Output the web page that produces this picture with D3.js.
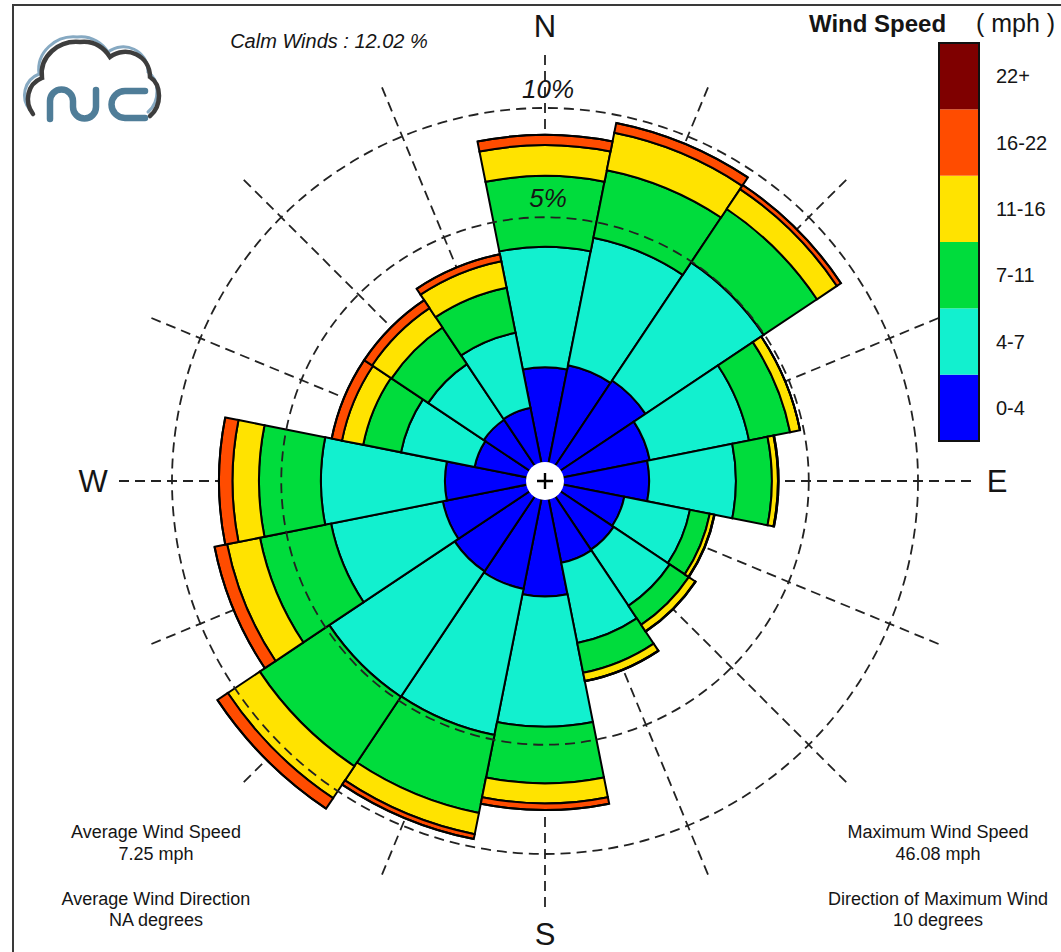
<!DOCTYPE html>
<html>
<head>
<meta charset="utf-8">
<script src="https://d3js.org/d3.v7.min.js"></script>
<style>
  body { margin: 0; background: #fff; }
  svg { display: block; }
  text { font-family: "Liberation Sans", Arial, Helvetica, sans-serif; fill: #151515; }
</style>
</head>
<body>
<svg id="chart" width="1061" height="952"></svg>
<script>
// wind directions, clockwise from north
var directions = ['N', 'NNE', 'NE', 'ENE', 'E', 'ESE', 'SE', 'SSE',
                  'S', 'SSW', 'SW', 'WSW', 'W', 'WNW', 'NW', 'NNW'];
var speedBins = ['0-4', '4-7', '7-11', '11-16', '16-22', '22+'];
var binColors = ['#0000ff', '#12f0cf', '#00dc3c', '#ffe300', '#ff4c00', '#7f0000'];

// percent of time per direction, one array per speed bin (mph)
var speed0to4   = [0.93, 1.00, 1.05, 0.82, 0.78, 0.47, 0.49, 0.50, 0.96, 0.87, 0.85, 0.78, 0.72, 0.37, 0.39, 0.40];
var speed4to7   = [3.01, 3.42, 3.92, 2.29, 1.84, 1.10, 1.13, 1.46, 3.38, 3.95, 3.99, 2.64, 2.89, 1.18, 1.03, 1.24];
var speed7to11  = [2.75, 2.80, 2.72, 1.38, 1.08, 0.46, 0.53, 0.79, 2.23, 3.42, 3.62, 2.65, 2.27, 0.92, 1.03, 1.15];
var speed11to16 = [1.42, 1.84, 1.17, 0.37, 0.20, 0.11, 0.20, 0.24, 0.90, 1.08, 2.00, 1.48, 1.14, 0.61, 0.66, 0.82];
var speed16to22 = [0.50, 0.52, 0.25, 0.00, 0.02, 0.01, 0.01, 0.01, 0.31, 0.26, 0.70, 0.61, 0.62, 0.32, 0.29, 0.23];
var speed22plus = [0, 0, 0, 0, 0, 0, 0, 0, 0, 0, 0, 0, 0, 0, 0, 0];

var ringValues = [5, 10];
var ringLabels = ['5%', '10%'];
var compassLabels = ['N', 'E', 'S', 'W'];

var calmText = 'Calm Winds : 12.02 %';
var statsLeft = ['Average Wind Speed', '7.25 mph', 'Average Wind Direction', 'NA degrees'];
var statsRight = ['Maximum Wind Speed', '46.08 mph', 'Direction of Maximum Wind', '10 degrees'];

var series = [speed0to4, speed4to7, speed7to11, speed11to16, speed16to22, speed22plus];
var table = directions.map(function(d, i) {
    var row = { dir: d };
    speedBins.forEach(function(b, j) { row[b] = series[j][i]; });
    return row;
});
var stacked = d3.stack().keys(speedBins)(table);

var svg = d3.select('#chart');
var cx = 545, cy = 481;

// frame
svg.append('rect')
    .attr('x', 13).attr('y', 5).attr('width', 1100).attr('height', 1000)
    .attr('fill', 'none').attr('stroke', '#3a3a3a').attr('stroke-width', 2);

var r = d3.scaleSqrt().domain([0, 10]).range([0, 373]);
var a = d3.scaleBand().domain(directions).range([0, 2 * Math.PI]);
var half = a.bandwidth() / 2;

var g = svg.append('g').attr('transform', 'translate(' + cx + ',' + cy + ')');

// radial guide lines (under the bars)
g.append('g').selectAll('line')
    .data(directions)
    .join('line')
    .attr('x1', 0).attr('y1', 0)
    .attr('x2', function(d) { return Math.sin(a(d)) * 432; })
    .attr('y2', function(d) { return -Math.cos(a(d)) * 432; })
    .attr('stroke', '#222').attr('stroke-width', 1.8)
    .attr('stroke-dasharray', '10,6');

var arc = d3.arc()
    .innerRadius(function(d) { return r(d[0]); })
    .outerRadius(function(d) { return r(d[1]); })
    .startAngle(function(d) { return a(d.data.dir) - half; })
    .endAngle(function(d) { return a(d.data.dir) + half; });

g.append('g').selectAll('g')
    .data(stacked)
    .join('g')
    .attr('fill', function(d, i) { return binColors[i]; })
    .selectAll('path')
    .data(function(d) { return d; })
    .join('path')
    .attr('d', arc)
    .attr('stroke', '#000').attr('stroke-width', 2)
    .attr('stroke-linejoin', 'miter');

// heavier outer edge of each bar
var top = stacked[stacked.length - 1];
var edge = d3.arc()
    .innerRadius(function(d) { return r(d[1]); })
    .outerRadius(function(d) { return r(d[1]); })
    .startAngle(function(d) { return a(d.data.dir) - half; })
    .endAngle(function(d) { return a(d.data.dir) + half; });
g.append('g').selectAll('path')
    .data(top)
    .join('path')
    .attr('d', edge)
    .attr('fill', 'none').attr('stroke', '#000').attr('stroke-width', 3);

// percent rings drawn over the bars
g.append('g').selectAll('circle')
    .data(ringValues)
    .join('circle')
    .attr('r', function(d) { return r(d); })
    .attr('fill', 'none').attr('stroke', '#222').attr('stroke-width', 1.8)
    .attr('stroke-dasharray', '10,6');

g.append('g').selectAll('text')
    .data(ringValues)
    .join('text')
    .attr('x', 3)
    .attr('y', function(d) { return -r(d) - 10; })
    .attr('text-anchor', 'middle')
    .style('font-size', '26px').style('font-style', 'italic')
    .text(function(d, i) { return ringLabels[i]; });

// compass letters
var compassPos = { N: [0, -444], E: [452, 11], S: [0, 464], W: [-452, 11] };
g.append('g').selectAll('text')
    .data(compassLabels)
    .join('text')
    .attr('x', function(d) { return compassPos[d][0]; })
    .attr('y', function(d) { return compassPos[d][1]; })
    .attr('text-anchor', 'middle')
    .style('font-size', '31px')
    .text(function(d) { return d; });

// center calm marker
g.append('circle').attr('r', 19).attr('fill', '#fff');
g.append('path').attr('d', 'M-8,0H8M0,-8V8').attr('stroke', '#000').attr('stroke-width', 2.4);

// legend colour bar
var ly = d3.scaleBand().domain(speedBins.slice().reverse()).range([43, 441]);
var legend = svg.append('g');
legend.selectAll('rect')
    .data(speedBins)
    .join('rect')
    .attr('x', 939).attr('width', 40)
    .attr('y', function(d) { return ly(d); })
    .attr('height', ly.bandwidth())
    .attr('fill', function(d, i) { return binColors[i]; });
legend.append('rect')
    .attr('x', 939).attr('y', 43).attr('width', 40).attr('height', 398)
    .attr('fill', 'none').attr('stroke', '#111').attr('stroke-width', 2);
legend.selectAll('text')
    .data(speedBins)
    .join('text')
    .attr('x', 996)
    .attr('y', function(d) { return ly(d) + ly.bandwidth() / 2 + 7; })
    .style('font-size', '20px')
    .text(function(d) { return d; });

svg.append('text').attr('x', 809).attr('y', 32)
    .style('font-size', '24px').style('font-weight', 'bold')
    .text('Wind Speed');
svg.append('text').attr('x', 976).attr('y', 32)
    .style('font-size', '25px')
    .text('( mph )');

svg.append('text').attr('x', 329).attr('y', 48)
    .attr('text-anchor', 'middle')
    .style('font-size', '20px').style('font-style', 'italic')
    .text(calmText);

// summary text blocks
var rowsY = [838, 860, 905, 926];
svg.append('g').selectAll('text')
    .data(statsLeft)
    .join('text')
    .attr('x', 156).attr('y', function(d, i) { return rowsY[i]; })
    .attr('text-anchor', 'middle').style('font-size', '18px')
    .text(function(d) { return d; });
svg.append('g').selectAll('text')
    .data(statsRight)
    .join('text')
    .attr('x', 938).attr('y', function(d, i) { return rowsY[i]; })
    .attr('text-anchor', 'middle').style('font-size', '18px')
    .text(function(d) { return d; });

// NC cloud logo
var logo = svg.append('g').attr('fill', 'none').attr('stroke-linecap', 'round');
logo.append('path')
    .attr('d', 'M30,110 C20,98 24,80 39,74 C36,52 56,35 77,37 C92,35 103,44 108,52 C124,40 148,50 148,72 C160,80 160,102 148,112')
    .attr('stroke', '#86a9c2').attr('stroke-width', 3);
logo.append('path')
    .attr('d', 'M33,114 C24,102 27,84 42,78 C39,56 59,40 80,42 C95,40 105,49 110,57 C126,45 150,55 150,77 C162,85 162,106 150,116')
    .attr('stroke', '#3d3d3d').attr('stroke-width', 4.5);
logo.append('path')
    .attr('d', 'M50,119 L50,101 A11.5,11.5 0 0 1 73,101 L73,107 A11.5,11.5 0 0 0 96,107 L96,90')
    .attr('stroke', '#4f7d98').attr('stroke-width', 6.5);
logo.append('path')
    .attr('d', 'M145,91 L125,91 A13.5,13.5 0 0 0 125,118 L145,118')
    .attr('stroke', '#4f7d98').attr('stroke-width', 6.5);
</script>
</body>
</html>
